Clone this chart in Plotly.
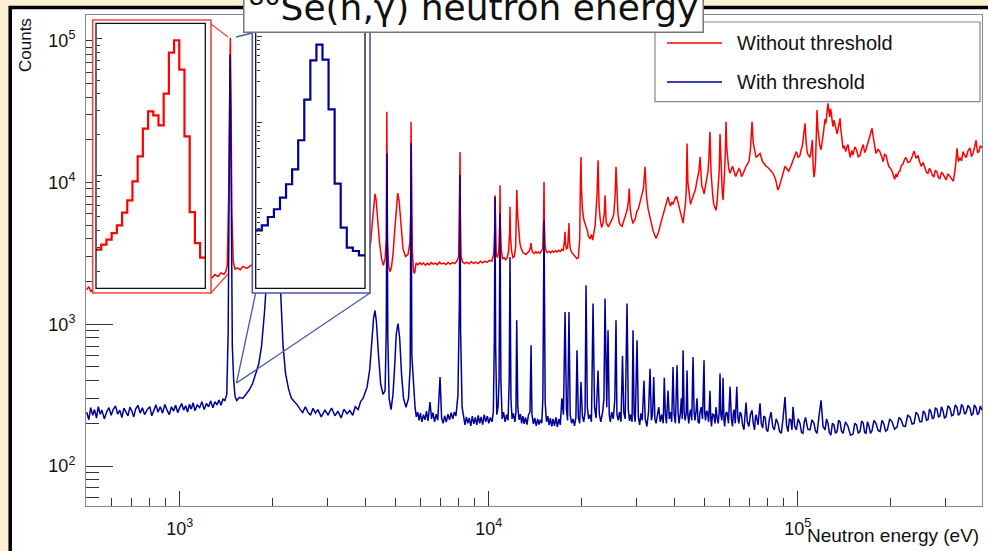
import plotly.graph_objects as go

# ---------------- data ----------------
# "Without threshold" (red), by energy segment
re_low = [500, 508, 516, 524, 532, 540, 550, 560, 570, 580,
          592, 604, 616, 628, 640, 655, 670, 685, 700, 715,
          730, 745, 760, 778, 796, 814, 832, 850, 870, 890,
          910, 930, 950, 975, 1000, 1025, 1050, 1075, 1100, 1125,
          1150, 1180, 1210, 1240, 1270, 1300, 1330, 1360, 1390, 1410]
rc_low = [1750, 1840, 1690, 1800, 1760, 1870, 1720, 1810, 1850, 1740,
          1880, 1790, 1840, 1760, 1900, 1820, 1870, 1780, 1930, 1850,
          1800, 1910, 1860, 1950, 1830, 1920, 1880, 1990, 1900, 1960,
          1870, 2010, 1940, 2050, 1970, 2020, 1950, 2090, 2030, 2100,
          2000, 2150, 2080, 2180, 2120, 2240, 2170, 2300, 2250, 2350]
re_res = [1425, 1440, 1452, 1458, 1465, 1475, 1490, 1510, 1540, 1570,
          1600, 1650, 1700, 1750, 1800, 1850, 1900, 1950, 2000, 2050,
          2100, 2160, 2220, 2300, 2450, 2600, 2850, 3100, 3300, 3550,
          3800, 3950, 4000, 4080, 4150, 4210, 4260, 4285, 4320, 4370,
          4430, 4500, 4560, 4620, 4660, 4680, 4700, 4740, 4790, 4840,
          4900, 4960, 5020, 5077, 5130, 5200, 5280, 5380, 5480, 5560,
          5590, 5605, 5625, 5660, 5710, 5760]
rc_res = [2600, 8000, 60000, 105000, 40000, 6000, 2800, 2450, 2500, 2420,
          2550, 2480, 2600, 2650, 2900, 3400, 4500, 6500, 8000, 7500,
          5500, 3800, 3200, 2900, 2750, 2700, 2650, 2700, 2650, 2700,
          2750, 2800, 2800, 3000, 3800, 5500, 7800, 8300, 7600, 5500,
          3800, 2900, 2600, 2900, 4000, 31500, 4000, 2600, 2350, 2500,
          3100, 4500, 6800, 8400, 7400, 4800, 3400, 3000, 3100, 3800,
          6000, 26800, 6000, 3300, 2350, 2290]
re_mid = [5820, 5900, 5980, 6060, 6150, 6240, 6330, 6420, 6520, 6620,
          6720, 6820, 6930, 7040, 7150, 7270, 7390, 7510, 7640, 7770,
          7900, 7990, 8050, 8074, 8095, 8140, 8230, 8360, 8500, 8640,
          8780, 8930, 9080, 9240, 9400, 9560, 9720, 9890, 10060, 10230,
          10380, 10450, 10480, 10510, 10580, 10680, 10780, 10850, 10880, 10910,
          10980, 11080, 11200, 11340, 11480, 11600, 11690, 11720, 11760, 11850,
          11970, 12100, 12220, 12290, 12330, 12400, 12500, 12620, 12750, 12900,
          13050, 13200, 13350, 13500, 13650, 13710, 13780, 13900, 14050, 14200,
          14350, 14500, 14650, 14800, 14950, 15050, 15100, 15140, 15220, 15350,
          15500, 15680, 15860, 16050, 16250, 16450, 16650, 16850, 17050, 17250,
          17450, 17600, 17660, 17720, 17850, 18000, 18120, 18190, 18260, 18400,
          18600, 18800, 19000, 19150, 19310, 19500]
rc_mid = [2700, 2620, 2720, 2640, 2700, 2610, 2690, 2630, 2720, 2650,
          2700, 2630, 2740, 2660, 2700, 2640, 2730, 2660, 2720, 2680,
          2800, 3000, 9000, 16400, 6000, 3000, 2750, 2680, 2740, 2670,
          2760, 2690, 2740, 2680, 2780, 2710, 2790, 2730, 2820, 2780,
          3100, 4500, 8130, 4200, 3100, 2950, 3300, 5000, 9570, 5000,
          3400, 2900, 2950, 2850, 2950, 3300, 4500, 6730, 4200, 3300,
          2950, 3000, 3500, 6000, 8830, 6000, 4500, 3700, 3400, 3200,
          3150, 3100, 3200, 3250, 3500, 3730, 3350, 3200, 3150, 3250,
          3180, 3230, 3170, 3260, 3400, 5500, 10100, 5000, 3600, 3250,
          3200, 3270, 3190, 3280, 3220, 3300, 3230, 3320, 3260, 3380,
          3330, 4000, 4480, 3700, 3400, 3450, 4200, 5170, 3800, 3350,
          3200, 3100, 3000, 2950, 2900, 2950]
re_hi1 = [19700, 19800, 19890, 19960, 20100, 20300, 20500, 20700, 20900, 21000,
          21300, 21500, 21700, 21900, 22100, 22400, 22590, 22750, 22950, 23200,
          23450, 23650, 23800, 24000, 24200, 24400, 24650, 24900, 25150, 25400,
          25650, 25820, 26000, 26200, 26450, 26700, 27000, 27250, 27500, 27800,
          28100, 28350, 28500, 28700, 29000, 29300, 29550, 29800, 30100, 30500,
          30850, 31200, 31650, 32050, 32400, 32800, 33300, 33700, 34000, 34400,
          34800, 35200, 35500, 35900, 36300, 36800, 37200, 37600, 38050, 38400,
          38800, 39100, 39500, 40000, 40500, 41000, 41500, 42000, 42560, 42900,
          43300, 43600, 43840, 44100, 44300, 44600, 45000, 45400, 45840, 46300,
          46700, 47100, 47500, 47900, 48290, 48600, 48900, 49300, 49750, 50100,
          50500, 50900, 51260, 51600, 52000, 52400, 52800, 53100, 53500, 54000,
          54400, 54800, 55300, 55700, 56050, 56400, 56700, 57000, 57320, 57700,
          58000, 58300, 58610, 58900, 59300, 59800, 60390]
rc_hi1 = [4000, 10000, 15100, 9000, 6500, 5500, 5000, 4800, 4500, 4200,
          4000, 4300, 3920, 4500, 5000, 8000, 14360, 7000, 5500, 4800,
          5200, 6000, 8130, 5200, 5000, 4860, 5100, 5300, 5600, 6000,
          8000, 12900, 7500, 6000, 5200, 5000, 4900, 5300, 5500, 6000,
          6500, 7500, 9060, 6500, 5600, 5130, 5400, 5500, 6200, 6500,
          7200, 8000, 9000, 12900, 8000, 6500, 5500, 5000, 4600, 4300,
          4030, 4300, 4500, 5000, 5500, 6000, 6500, 7200, 7910, 7200,
          6800, 7300, 7000, 7600, 8000, 7200, 6500, 5800, 5170, 6000,
          7000, 9000, 18830, 10000, 9000, 7800, 7000, 7500, 7910, 8500,
          9000, 10000, 11000, 12000, 15100, 10500, 9500, 9000, 8300, 9000,
          10000, 11000, 12000, 15000, 22750, 12000, 9000, 8000, 7000, 6600,
          6370, 7200, 9000, 12000, 22000, 13000, 10000, 8500, 7500, 9000,
          12000, 16000, 26800, 18000, 15000, 12500, 11600]
re_hi2 = [60900, 61500, 62200, 63000, 63800, 64500, 65060, 65800, 66500, 67300,
          68040, 68800, 69500, 70300, 71140, 71800, 72500, 73300, 74400, 75510,
          76200, 77000, 78000, 78960, 80000, 81000, 82100, 83180, 84000, 84800,
          85600, 86340, 87400, 88500, 89700, 90960, 92200, 93500, 95000, 96560,
          97800, 99000, 100300, 101700, 102600, 103500, 104600, 105600, 106500, 107500,
          108500, 109600, 110600, 111500, 112200, 112900, 113600, 114200, 114900, 115500,
          116200, 117000, 118000, 119000, 120000, 121000, 121800, 122600, 123300, 124000,
          124700, 125300, 126100, 127000, 127700, 128500, 129300, 130100, 131000, 132000,
          133000, 134100, 135500, 136300, 137100, 137800, 138500, 139300, 140200, 141500,
          143000, 144200, 145500, 146800, 148000, 149500, 151000, 153000, 155000, 157000,
          159100, 161000, 163000, 164700, 166300, 168200, 170000, 172000, 174000, 175500,
          177000, 178100, 179200, 182000, 184700, 187000, 189000, 191000, 193100, 195000,
          197000, 199500, 202000, 204000, 206000, 208000, 209600, 212000, 214000, 216500,
          219200, 221500, 224000, 227500, 230900, 234500, 238000, 241500, 245100, 248000,
          251000, 254500, 258200, 261000, 264000, 267000, 270000, 273000, 276000, 279000,
          282400, 285500, 288500, 292000, 295300, 298500, 302000, 306500, 311100, 315000,
          319000, 323500, 327700, 331000, 335000, 339000, 342700, 347000, 351000, 356000,
          361000, 365000, 369000, 373000, 377600, 382000, 386000, 390000, 394900]
rc_hi2 = [12500, 13000, 12000, 11000, 11800, 12500, 12200, 11000, 11500, 12500,
          13000, 13500, 14000, 17000, 26800, 19000, 17000, 15000, 15500, 16000,
          15000, 14000, 13500, 13000, 12800, 12500, 12000, 11600, 11000, 10500,
          9500, 8830, 9500, 10500, 12000, 13000, 12500, 12000, 13000, 14360,
          15500, 16500, 15000, 15500, 17000, 18000, 22000, 26100, 19000, 16000,
          15500, 15000, 17000, 20000, 13000, 10900, 12000, 14000, 22000, 32400,
          24000, 20000, 18000, 17000, 19000, 22000, 25000, 28000, 26000, 30000,
          33000, 36100, 32000, 29000, 33000, 31000, 27000, 24800, 27500, 26000,
          24000, 22000, 25000, 27000, 28300, 24000, 21000, 19000, 17400, 18200,
          16500, 17800, 18500, 16200, 15000, 16800, 15600, 17800, 17000, 15200,
          15500, 17200, 18500, 16200, 17000, 18600, 20000, 21500, 24100, 21000,
          19000, 17500, 16000, 17200, 16400, 15200, 14000, 15800, 15500, 14200,
          13000, 12600, 12000, 11200, 10500, 11500, 10900, 11800, 12000, 13200,
          13500, 14500, 15000, 13800, 14000, 15200, 16700, 14800, 15500, 14000,
          13000, 13800, 12500, 11800, 11600, 12600, 12000, 11200, 11000, 12200,
          11800, 10800, 10660, 11800, 11500, 10800, 10400, 11500, 11000, 10500,
          10200, 12500, 17400, 14000, 15000, 14200, 16500, 15500, 15000, 16800,
          17500, 15200, 16000, 17500, 19800, 16200, 16500, 18200, 17500]

# "With threshold" (blue), by energy segment
be_low = [500, 508, 515, 523, 530, 538, 545, 553, 560, 570,
          580, 590, 600, 610, 620, 630, 640, 650, 660, 670,
          680, 690, 700, 710, 720, 732, 745, 757, 770, 785,
          800, 812, 825, 838, 850, 865, 880, 895, 910, 925,
          940, 955, 970, 985, 1000, 1015, 1030, 1045, 1060, 1075,
          1090, 1105, 1120, 1140, 1160, 1180, 1200, 1220, 1240, 1260,
          1280, 1300, 1320, 1340, 1360, 1380, 1400]
bc_low = [240, 212, 258, 228, 250, 218, 262, 232, 248, 215,
          240, 258, 228, 252, 265, 232, 248, 220, 256, 238,
          226, 260, 244, 222, 252, 268, 236, 258, 230, 250,
          262, 226, 248, 270, 240, 262, 236, 272, 248, 230,
          262, 244, 268, 238, 258, 276, 248, 266, 240, 272,
          252, 280, 246, 270, 258, 284, 250, 276, 262, 288,
          258, 284, 270, 292, 268, 296, 290]
be_res = [1420, 1435, 1448, 1455, 1462, 1470, 1480, 1495, 1510, 1530,
          1560, 1600, 1640, 1680, 1720, 1760, 1800, 1840, 1880, 1920,
          1960, 2000, 2030, 2060, 2100, 2130, 2160, 2200, 2250, 2300,
          2350, 2400, 2450, 2500, 2550, 2600, 2650, 2700, 2750, 2800,
          2870, 2950, 3020, 3100, 3180, 3250, 3330, 3400, 3480, 3550,
          3630, 3700, 3780, 3850, 3920, 3980, 4040, 4120, 4180, 4240,
          4285, 4330, 4400, 4470, 4550, 4620, 4660, 4688, 4715, 4760,
          4830, 4900, 4960, 5020, 5087, 5150, 5220, 5300, 5400, 5500,
          5570, 5605, 5640, 5700]
bc_res = [320, 900, 20000, 80000, 30000, 2500, 700, 400, 310, 290,
          305, 300, 320, 345, 380, 440, 520, 700, 1200, 2400,
          5500, 9000, 9500, 7000, 3000, 1500, 700, 450, 350, 300,
          285, 270, 252, 238, 262, 240, 228, 255, 236, 250,
          222, 248, 230, 256, 226, 244, 218, 252, 234, 246,
          228, 262, 250, 285, 300, 330, 360, 480, 700, 1100,
          1250, 1050, 600, 380, 320, 340, 900, 16000, 800, 300,
          250, 320, 500, 850, 1010, 800, 450, 300, 260, 300,
          500, 18900, 600, 385]
be_mid = [5775, 5830, 5890, 5950, 6010, 6080, 6150, 6220, 6290, 6360,
          6458, 6530, 6600, 6680, 6760, 6840, 6957, 7040, 7120, 7200,
          7290, 7380, 7470, 7560, 7650, 7740, 7830, 7950, 8040, 8074,
          8110, 8200, 8290, 8380, 8470, 8560, 8650, 8750, 8850, 8950,
          9050, 9150, 9250, 9350, 9450, 9560, 9670, 9780, 9900, 10000,
          10120, 10250, 10350, 10430, 10480, 10530, 10620, 10720, 10800, 10880,
          10950, 11050, 11170, 11300, 11420, 11550, 11650, 11720, 11800, 11900,
          12020, 12150, 12250, 12320, 12420, 12540, 12660, 12780, 12900, 13020,
          13150, 13300, 13450, 13600, 13710, 13800, 13950, 14100, 14250, 14400,
          14550, 14700, 14850, 14970, 15100, 15230, 15380, 15530, 15680, 15830,
          16000, 16150, 16320, 16500, 16680, 16860, 17050, 17250, 17450, 17660,
          17850, 18000, 18190, 18350, 18550, 18750, 18950, 19150, 19310, 19500,
          19700, 19890, 20100, 20300]
bc_mid = [260, 222, 240, 210, 236, 205, 230, 212, 244, 208,
          283, 215, 238, 205, 232, 210, 425, 218, 200, 226,
          204, 232, 212, 238, 215, 240, 225, 315, 1500, 11300,
          900, 260, 215, 195, 222, 200, 218, 192, 225, 198,
          220, 195, 228, 200, 222, 196, 230, 205, 225, 200,
          220, 205, 240, 800, 7910, 700, 230, 260, 400, 6020,
          400, 215, 240, 205, 230, 210, 400, 2985, 300, 215,
          235, 205, 240, 1067, 260, 212, 232, 200, 225, 198,
          220, 196, 230, 240, 710, 230, 198, 218, 192, 215,
          196, 212, 200, 300, 5420, 280, 205, 225, 194, 218,
          190, 215, 192, 220, 188, 215, 195, 300, 230, 1220,
          250, 210, 1220, 230, 200, 215, 192, 220, 655, 220,
          200, 391, 225, 205]
be_hi1 = [20500, 20650, 20850, 21050, 21300, 21500, 21760, 22000, 22250, 22590,
          22800, 23050, 23400, 23600, 23790, 23950, 24100, 24330, 24550, 24750,
          25000, 25300, 25600, 25820, 26000, 26250, 26500, 26800, 27100, 27350,
          27650, 28030, 28300, 28550, 28800, 29100, 29310, 29550, 29800, 30200,
          30500, 30800, 31100, 31400, 31800, 32100, 32500, 32900, 33270, 33600,
          33900, 34200, 34500, 34800, 35200, 35500, 35900, 36300, 36700, 37000,
          37300, 37600, 38050, 38400, 38700, 39100, 39490, 39800, 40200, 40690,
          41000, 41300, 41700, 42000, 42300, 42560, 42900, 43200, 43550, 43840,
          44100, 44400, 44700, 45000, 45400, 45840, 46200, 46500, 46900, 47200,
          47600, 48000, 48300, 48700, 49200, 49750, 50000, 50300, 50700, 51000,
          51500, 52000, 52300, 52600, 53000, 53500, 54000, 54400, 54900, 55300,
          55700, 56050, 56400, 56800, 57100, 57320, 57700, 58000, 58500, 59000,
          59700, 60390]
bc_hi1 = [240, 1880, 260, 215, 230, 205, 1400, 260, 218, 472,
          232, 205, 245, 300, 1520, 400, 260, 905, 230, 205,
          240, 215, 300, 1067, 230, 210, 240, 205, 600, 240,
          215, 1400, 250, 208, 230, 205, 905, 232, 205, 770,
          220, 195, 235, 210, 400, 215, 190, 240, 486, 210,
          232, 425, 215, 200, 240, 260, 205, 230, 200, 420,
          230, 200, 340, 215, 240, 205, 500, 230, 200, 513,
          240, 200, 235, 300, 215, 655, 240, 210, 235, 472,
          230, 200, 235, 250, 210, 586, 240, 210, 245, 300,
          205, 200, 240, 260, 215, 556, 240, 210, 245, 240,
          205, 340, 220, 190, 232, 230, 200, 260, 215, 200,
          240, 450, 230, 210, 250, 420, 215, 190, 235, 240,
          200, 362]
be_hi2 = [61000, 61500, 61900, 62220, 62800, 63500, 64000, 64500, 65100, 65700,
          66300, 67000, 67500, 68040, 68700, 69500, 70300, 71140, 71800, 72500,
          72900, 73300, 74400, 75510, 76200, 77000, 77700, 78500, 79200, 80000,
          81000, 82000, 83000, 84000, 85200, 86340, 87400, 88500, 89700, 90960,
          92000, 93000, 94000, 95000, 95800, 96560, 97800, 99000, 100300, 101700,
          102900, 104000, 105000, 106000, 107800, 109600, 111200, 112900, 114200, 115500,
          117200, 119000, 120800, 122600, 124000, 125300, 126600, 128000, 129500, 131000,
          132500, 134100, 135600, 137100, 138600, 140200, 142800, 145500, 148200, 151000,
          153000, 155000, 157000, 159100, 161000, 163000, 164700, 166300, 168200, 170000,
          172000, 174000, 176500, 179200, 182000, 184700, 187300, 190000, 192500, 195000,
          198500, 202000, 205800, 209600, 212800, 216000, 219500, 223000, 227000, 230900,
          234500, 238000, 241500, 245100, 248500, 252000, 255000, 258200, 261000, 264000,
          267000, 270000, 273000, 276000, 279000, 282400, 285500, 288500, 292000, 295300,
          298500, 302000, 306500, 311100, 315000, 319000, 323500, 327700, 331000, 335000,
          339000, 342700, 347000, 351000, 356000, 361000, 365000, 369000, 373000, 377600,
          382000, 386000, 390000, 394900]
bc_hi2 = [215, 190, 235, 250, 200, 362, 220, 200, 240, 230,
          195, 180, 225, 280, 205, 190, 230, 247, 200, 180,
          215, 230, 195, 277, 200, 185, 225, 220, 180, 175,
          215, 240, 190, 180, 215, 200, 175, 170, 220, 306,
          195, 175, 215, 210, 180, 262, 190, 180, 215, 200,
          172, 170, 205, 220, 182, 180, 212, 200, 176, 170,
          225, 291, 190, 180, 215, 200, 172, 165, 200, 195,
          170, 175, 210, 205, 176, 170, 205, 190, 165, 168,
          200, 195, 170, 175, 208, 200, 172, 170, 205, 192,
          170, 178, 210, 200, 178, 175, 210, 198, 176, 180,
          215, 205, 182, 188, 220, 212, 192, 190, 228, 222,
          198, 200, 240, 230, 205, 205, 245, 235, 210, 212,
          252, 240, 215, 220, 258, 250, 222, 225, 262, 245,
          218, 222, 266, 255, 226, 230, 270, 260, 228, 235,
          272, 262, 232, 240, 268, 255, 228, 232, 270, 258,
          230, 238, 265, 247]

# inset histograms (zoom on the 1.46 keV resonance)
red_inset_bin_edges_eV = [1430.0 + 2.5 * i for i in range(22)]
red_inset_counts = [2880, 3130, 3410, 3805, 4330, 5370, 6600, 9090, 13840, 22080, 29530, 27620, 23340, 39800,
                    79400, 97700, 59600, 19400, 5420, 3215, 2515]
blue_inset_bin_edges_eV = [1435.0 + 2.5 * i for i in range(19)]
blue_inset_counts = [565, 645, 805, 990, 1350, 1930, 2875, 6240, 18450, 52600, 80000, 53600, 14250, 1963, 607,
                     356, 325, 290]

x_major_ticks = [1e3, 1e4, 1e5]
x_major_labels = ["10<sup>3</sup>", "10<sup>4</sup>", "10<sup>5</sup>"]
y_major_ticks = [1e2, 1e3, 1e4, 1e5]
y_major_labels = ["10<sup>2</sup>", "10<sup>3</sup>", "10<sup>4</sup>", "10<sup>5</sup>"]

title_text = "<sup>80</sup>Se(n,γ) neutron energy"
x_title = "Neutron energy (eV)"
y_title = "Counts"
legend_labels = ["Without threshold", "With threshold"]

red_energy_eV = re_low + re_res + re_mid + re_hi1 + re_hi2
red_counts = rc_low + rc_res + rc_mid + rc_hi1 + rc_hi2
blue_energy_eV = be_low + be_res + be_mid + be_hi1 + be_hi2
blue_counts = bc_low + bc_res + bc_mid + bc_hi1 + bc_hi2
for a, b in [(re_low, rc_low), (re_res, rc_res), (re_mid, rc_mid), (re_hi1, rc_hi1), (re_hi2, rc_hi2),
             (be_low, bc_low), (be_res, bc_res), (be_mid, bc_mid), (be_hi1, bc_hi1), (be_hi2, bc_hi2)]:
    assert len(a) == len(b), (len(a), len(b), a[0])
assert len(red_inset_bin_edges_eV) == len(red_inset_counts) + 1
assert len(blue_inset_bin_edges_eV) == len(blue_inset_counts) + 1

RED = "#ff0000"
BLUE = "#000099"
W, H = 988, 551
ML, MR, MT, MB = 86, 6, 15, 45
PW, PH = W - ML - MR, H - MT - MB


def px(xp):
    return (xp - ML) / PW


def py(yp):
    return (H - MB - yp) / PH


def minor_vals(lo, hi):
    return [m * 10 ** e for e in range(lo, hi) for m in range(2, 10)]


fig = go.Figure()
fig.add_trace(go.Scatter(x=red_energy_eV, y=red_counts, mode="lines", name=legend_labels[0],
                         line=dict(color=RED, width=1.5), xaxis="x", yaxis="y"))
fig.add_trace(go.Scatter(x=blue_energy_eV, y=blue_counts, mode="lines", name=legend_labels[1],
                         line=dict(color=BLUE, width=1.5), xaxis="x", yaxis="y"))
fig.add_trace(go.Scatter(x=red_inset_bin_edges_eV, y=red_inset_counts + [red_inset_counts[-1]],
                         mode="lines", line=dict(color=RED, width=2.2, shape="hv"),
                         xaxis="x2", yaxis="y2", showlegend=False))
fig.add_trace(go.Scatter(x=blue_inset_bin_edges_eV, y=blue_inset_counts + [blue_inset_counts[-1]],
                         mode="lines", line=dict(color=BLUE, width=2.2, shape="hv"),
                         xaxis="x3", yaxis="y3", showlegend=False))

AX = dict(showgrid=False, zeroline=False)
tickfont = dict(family="Liberation Sans, Arial, sans-serif", size=18, color="#111")

# inset geometry (pixels)
red_outer = (92.7, 20, 211, 293)
red_inner = (96, 23.3, 205.3, 288.3)
blue_outer = (252.3, 20, 370, 293)
blue_inner = (255.7, 23.3, 365, 288.3)

fig.update_layout(
    width=W, height=H, margin=dict(l=ML, r=MR, t=MT, b=MB),
    paper_bgcolor="#fdf0d2", plot_bgcolor="white", showlegend=False,
    xaxis=dict(**AX, type="log", range=[2.6967, 5.5964], tickmode="array", tickvals=x_major_ticks,
               ticktext=x_major_labels, ticks="inside", ticklen=15, tickcolor="#333", tickwidth=1,
               minor=dict(tickmode="array", tickvals=minor_vals(2, 6), ticks="inside", ticklen=8,
                          tickcolor="#333", showgrid=False),
               showline=True, linecolor="#888", linewidth=1, mirror=True, tickfont=tickfont,
               ticklabelstandoff=6),
    yaxis=dict(**AX, type="log", range=[1.718, 5.181], tickmode="array", tickvals=y_major_ticks,
               ticktext=y_major_labels, ticks="inside", ticklen=27, tickcolor="#333", tickwidth=1,
               minor=dict(tickmode="array", tickvals=minor_vals(1, 6), ticks="inside", ticklen=13,
                          tickcolor="#333", showgrid=False),
               showline=True, linecolor="#888", linewidth=1, mirror=True, tickfont=tickfont,
               ticklabelstandoff=6),
    xaxis2=dict(**AX, domain=[px(red_outer[0]), px(red_outer[2])], range=[1428.4, 1485.24],
                anchor="y2", visible=False),
    yaxis2=dict(**AX, type="log", domain=[py(red_outer[3]), py(red_outer[1])], range=[3.142, 5.138],
                anchor="free", position=px(red_inner[0]), ticks="inside", ticklen=5, tickcolor="#333",
                showticklabels=False, showline=False, tickvals=[1e4, 1e5],
                minor=dict(tickmode="array", tickvals=minor_vals(3, 6), ticks="inside", ticklen=3,
                           tickcolor="#333")),
    xaxis3=dict(**AX, domain=[px(blue_outer[0]), px(blue_outer[2])], range=[1433.6, 1482.06],
                anchor="y3", visible=False),
    yaxis3=dict(**AX, type="log", domain=[py(blue_outer[3]), py(blue_outer[1])], range=[2.0255, 5.188],
                anchor="free", position=px(blue_inner[0]), ticks="inside", ticklen=5, tickcolor="#333",
                showticklabels=False, showline=False, tickvals=[1e3, 1e4, 1e5],
                minor=dict(tickmode="array", tickvals=minor_vals(2, 6), ticks="inside", ticklen=3,
                           tickcolor="#333")),
)

shapes = []
# white canvas with black border
shapes.append(dict(type="rect", xref="paper", yref="paper", x0=px(10.2), x1=px(1010), y0=py(570), y1=py(7.6),
                   fillcolor="white", line=dict(color="black", width=3.5), layer="below"))
# inset frames
for outer, inner, col in [(red_outer, red_inner, "#f04545"), (blue_outer, blue_inner, "#4a5aa8")]:
    shapes.append(dict(type="rect", xref="paper", yref="paper", x0=px(outer[0]), x1=px(outer[2]),
                       y0=py(outer[3]), y1=py(outer[1]), line=dict(color=col, width=1.6), layer="above"))
    shapes.append(dict(type="rect", xref="paper", yref="paper", x0=px(inner[0]), x1=px(inner[2]),
                       y0=py(inner[3]), y1=py(inner[1]), line=dict(color="#111", width=1.3), layer="above"))
# connectors
connectors = [
    ((211, 24), (228, 37), "#f04545"),
    ((211, 293), (228, 274), "#f04545"),
    ((252.3, 33), (236, 37), "#4a5aa8"),
    ((255.7, 293), (236.5, 383), "#4a5aa8"),
    ((370, 293), (236.5, 383), "#4a5aa8"),
]
for (a, b, col) in connectors:
    shapes.append(dict(type="line", xref="paper", yref="paper", x0=px(a[0]), y0=py(a[1]), x1=px(b[0]),
                       y1=py(b[1]), line=dict(color=col, width=1.3), layer="above"))
# custom legend
shapes.append(dict(type="rect", xref="paper", yref="paper", x0=px(655), x1=px(980), y0=py(101.7), y1=py(22),
                   fillcolor="white", line=dict(color="#888", width=1.2), layer="above"))
shapes.append(dict(type="line", xref="paper", yref="paper", x0=px(667), x1=px(722), y0=py(43), y1=py(43),
                   line=dict(color=RED, width=1.4), layer="above"))
shapes.append(dict(type="line", xref="paper", yref="paper", x0=px(667), x1=px(722), y0=py(82), y1=py(82),
                   line=dict(color=BLUE, width=1.4), layer="above"))
fig.update_layout(shapes=shapes)

font_main = "Liberation Sans, Arial, sans-serif"
annotations = [
    dict(text=legend_labels[0], x=px(735), y=py(43), xref="paper", yref="paper", xanchor="left",
         yanchor="middle", showarrow=False, font=dict(family=font_main, size=20, color="#111")),
    dict(text=legend_labels[1], x=px(735), y=py(82), xref="paper", yref="paper", xanchor="left",
         yanchor="middle", showarrow=False, font=dict(family=font_main, size=20, color="#111")),
    dict(text=x_title, x=px(981), y=py(523), xref="paper", yref="paper", xanchor="right", yanchor="top",
         showarrow=False, font=dict(family=font_main, size=19, color="#111")),
    dict(text=y_title, x=px(25), y=py(16), xref="paper", yref="paper", xanchor="center", yanchor="top",
         textangle=-90, showarrow=False, font=dict(family=font_main, size=17, color="#111")),
    dict(text=title_text, x=px(473), y=py(33), xref="paper", yref="paper", xanchor="center",
         yanchor="bottom", showarrow=False, bgcolor="white", bordercolor="#777", borderwidth=1.5,
         borderpad=4, font=dict(family="DejaVu Sans, sans-serif", size=36, color="#111")),
]
fig.update_layout(annotations=annotations)

fig.write_html("out.html", config={"displayModeBar": False},
               post_script="document.body.style.margin='0px';")
